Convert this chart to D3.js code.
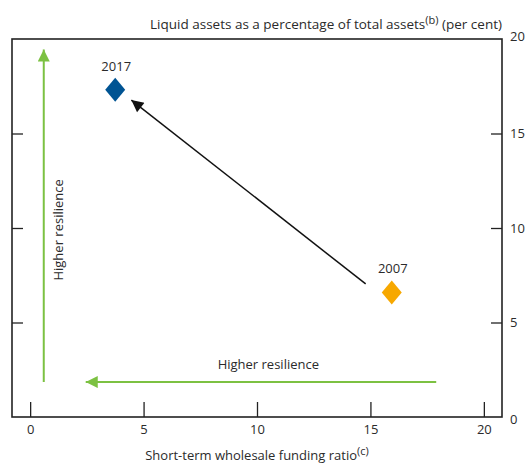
<!DOCTYPE html>
<html><head><meta charset="utf-8">
<script src="https://cdn.jsdelivr.net/npm/d3@7"></script>
<style>body{margin:0;background:#fff;} text{font-family:"Open Sans","Noto Sans",sans-serif;fill:#2b2b2b;}</style>
</head><body><svg id="c" width="525" height="463"></svg>
<script>
const years = ["2007", "2017"];
const fundingRatio = [15.94, 3.75];
const liquidAssets = [6.59, 17.32];
const pointColors = ["#f7a800", "#005493"];
const xTicks = [0, 5, 10, 15, 20];
const yTicks = [0, 5, 10, 15, 20];
const changeArrow = {from: [14.79, 7.04], to: [4.46, 16.77]};
const vArrow = {from: [0.6, 1.85], to: [0.6, 19.45]};
const hArrow = {from: [17.9, 1.85], to: [2.45, 1.85]};

const svg = d3.select("#c");
const L = 12, R = 502, T = 39, B = 417;
const x = d3.scaleLinear().domain([-0.8, 20.8]).range([L, R]);
const y = d3.scaleLinear().domain([0, 20]).range([B, T]);

const defs = svg.append("defs");
function marker(id, color, w, h) {
  defs.append("marker").attr("id", id).attr("viewBox", "0 0 10 10").attr("refX", 10).attr("refY", 5)
    .attr("markerUnits", "userSpaceOnUse").attr("markerWidth", w).attr("markerHeight", h).attr("orient", "auto")
    .append("path").attr("d", "M0,0L10,5L0,10z").attr("fill", color);
}
marker("blk", "#111", 18, 12);
marker("grn", "#7cc142", 17, 12);

// frame
svg.append("rect").attr("x", L).attr("y", T).attr("width", R - L).attr("height", B - T)
  .attr("fill", "none").attr("stroke", "#222").attr("stroke-width", 1.6);

// bottom axis
const gx = svg.append("g").attr("transform", `translate(0,${B})`)
  .call(d3.axisBottom(x).tickValues(xTicks).tickSize(-15).tickPadding(8));
// right axis
const gy = svg.append("g").attr("transform", `translate(${R},0)`)
  .call(d3.axisRight(y).tickValues(yTicks).tickSize(-11).tickPadding(8));
// left axis ticks (no labels)
const gl = svg.append("g").attr("transform", `translate(${L},0)`)
  .call(d3.axisLeft(y).tickValues(yTicks.filter(v => v > 0 && v < 20)).tickSize(-11).tickFormat(""));
[gx, gy, gl].forEach(g => {
  g.select(".domain").remove();
  g.selectAll("line").attr("stroke", "#222").attr("stroke-width", 1.3);
  g.selectAll("text").attr("font-size", 13).attr("fill", "#2b2b2b").style("font-family", '"Open Sans","Noto Sans",sans-serif');
});
gy.selectAll(".tick").filter(d => d === 20 || d === 0).select("line").remove();
gy.selectAll(".tick").filter(d => d === 0).select("text").attr("dy", "0.5em");
gy.selectAll(".tick").filter(d => d === 20).select("text").attr("dy", "0.1em");

// green arrows
svg.append("line").attr("x1", x(vArrow.from[0])).attr("y1", y(vArrow.from[1]))
  .attr("x2", x(vArrow.to[0])).attr("y2", y(vArrow.to[1]))
  .attr("stroke", "#7cc142").attr("stroke-width", 2).attr("marker-end", "url(#grn)");
svg.append("line").attr("x1", x(hArrow.from[0])).attr("y1", y(hArrow.from[1]))
  .attr("x2", x(hArrow.to[0])).attr("y2", y(hArrow.to[1]))
  .attr("stroke", "#7cc142").attr("stroke-width", 2).attr("marker-end", "url(#grn)");

svg.append("text").attr("transform", `translate(${x(0.6) + 19},${y(9.9)}) rotate(-90)`)
  .attr("text-anchor", "middle").attr("font-size", 13).text("Higher resilience");
svg.append("text").attr("x", x(10.5)).attr("y", y(1.85) - 13)
  .attr("text-anchor", "middle").attr("font-size", 13).text("Higher resilience");

// change arrow
svg.append("line").attr("x1", x(changeArrow.from[0])).attr("y1", y(changeArrow.from[1]))
  .attr("x2", x(changeArrow.to[0])).attr("y2", y(changeArrow.to[1]))
  .attr("stroke", "#111").attr("stroke-width", 1.5).attr("marker-end", "url(#blk)");

// points
const pts = years.map((yr, i) => ({yr, fx: fundingRatio[i], la: liquidAssets[i], c: pointColors[i]}));
svg.selectAll(".pt").data(pts).enter().append("path")
  .attr("transform", d => `translate(${x(d.fx)},${y(d.la)})`)
  .attr("d", "M0,-12L10,0L0,12L-10,0Z").attr("fill", d => d.c);
svg.selectAll(".lbl").data(pts).enter().append("text")
  .attr("x", d => x(d.fx) + 1).attr("y", d => y(d.la) - 19)
  .attr("text-anchor", "middle").attr("font-size", 13).text(d => d.yr);

// titles
const t1 = svg.append("text").attr("x", R).attr("y", 29).attr("text-anchor", "end").attr("font-size", 13.5);
t1.append("tspan").text("Liquid assets as a percentage of total assets");
t1.append("tspan").attr("dy", -5).attr("font-size", 11).text("(b)");
t1.append("tspan").attr("dy", 5).text(" (per cent)");
const t2 = svg.append("text").attr("x", x(10)).attr("y", 460).attr("text-anchor", "middle").attr("font-size", 13);
t2.append("tspan").text("Short-term wholesale funding ratio");
t2.append("tspan").attr("dy", -5).attr("font-size", 11).text("(c)");
</script></body></html>
